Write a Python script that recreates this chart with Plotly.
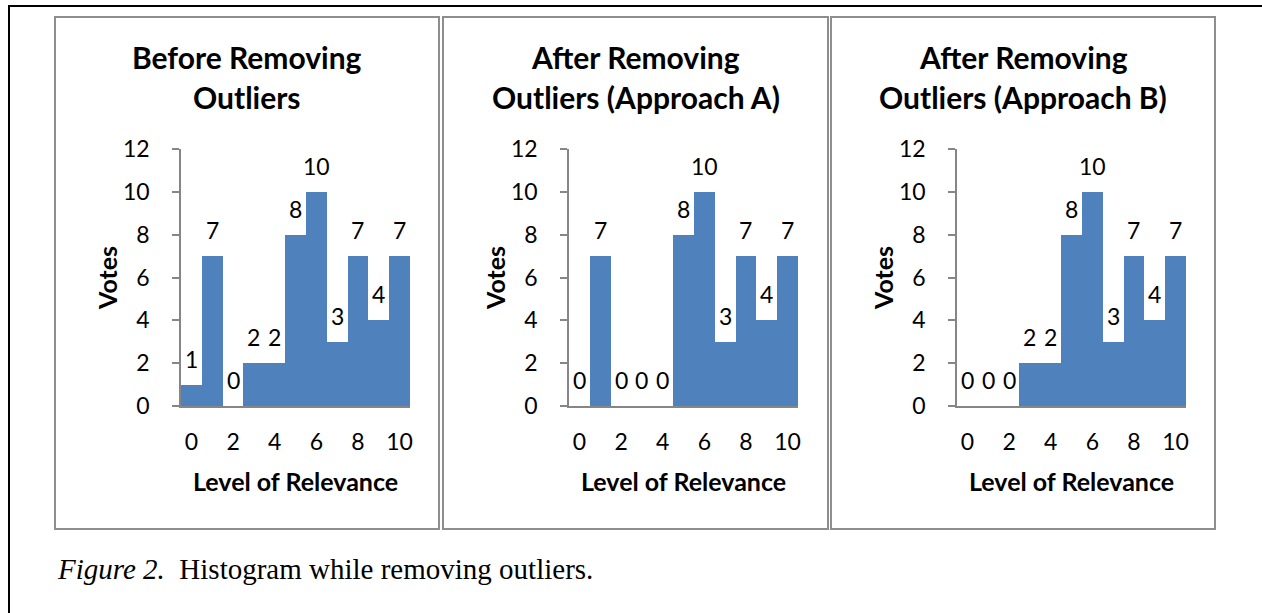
import plotly.graph_objects as go

W, H = 1262, 613

levels = list(range(11))
votes_before = [1, 7, 0, 2, 2, 8, 10, 3, 7, 4, 7]
votes_after_a = [0, 7, 0, 0, 0, 8, 10, 3, 7, 4, 7]
votes_after_b = [0, 0, 0, 2, 2, 8, 10, 3, 7, 4, 7]
series = [votes_before, votes_after_a, votes_after_b]
titles = [["Before Removing", "Outliers"],
          ["After Removing", "Outliers (Approach A)"],
          ["After Removing", "Outliers (Approach B)"]]
x_ticks = [0, 2, 4, 6, 8, 10]
y_ticks = [0, 2, 4, 6, 8, 10, 12]
x_title = "Level of Relevance"
y_title = "Votes"
caption_italic = "Figure 2."
caption_text = "Histogram while removing outliers."

BAR = "#4F81BD"
AXIS = "#868686"
PANEL = "#8E8E8E"
FONT = "Lato"
TICK_SIZE = 23
AXT_SIZE = 25
TITLE_SIZE = 30

# pixel layout
plot_x = [(181, 410), (569, 798), (957, 1186)]
plot_y = (149, 406)
panel_x = [(55, 439), (443, 828), (831, 1215)]
panel_y = (17, 529)

def px(x):
    return x / W

def py(y):
    return 1 - y / H

fig = go.Figure()
shapes = []
annotations = []

for i, vals in enumerate(series):
    n = "" if i == 0 else str(i + 1)
    xa = "x" + n
    ya = "y" + n
    fig.add_trace(go.Bar(x=levels, y=vals, marker=dict(color=BAR, line=dict(width=0)),
                         xaxis=xa, yaxis=ya, showlegend=False, hoverinfo="x+y"))
    x0, x1 = plot_x[i]
    fig.layout["xaxis" + n] = dict(
        domain=[px(x0), px(x1)], anchor=ya, range=[-0.5, 10.5],
        tickvals=x_ticks, ticks="outside", ticklen=14, tickcolor="rgba(0,0,0,0)",
        showline=True, linecolor=AXIS, linewidth=2, showgrid=False, zeroline=False,
        automargin=False,
        tickfont=dict(family=FONT, size=TICK_SIZE, color="black"), fixedrange=True)
    fig.layout["yaxis" + n] = dict(
        domain=[py(plot_y[1]), py(plot_y[0])], anchor=xa, range=[0, 12],
        tickvals=y_ticks, ticks="outside", ticklen=7, tickcolor=AXIS, tickwidth=1.5,
        ticklabelstandoff=18, automargin=False,
        showline=True, linecolor=AXIS, linewidth=1.5, showgrid=False, zeroline=False,
        tickfont=dict(family=FONT, size=TICK_SIZE, color="black"), fixedrange=True)

    # panel border
    p0, p1 = panel_x[i]
    shapes.append(dict(type="rect", xref="paper", yref="paper",
                       x0=px(p0), x1=px(p1), y0=py(panel_y[1]), y1=py(panel_y[0]),
                       line=dict(color=PANEL, width=2), layer="below"))
    # titles
    cx = (p0 + p1) / 2
    for j, line in enumerate(titles[i]):
        annotations.append(dict(text="<b>" + line + "</b>", xref="paper", yref="paper",
                                x=px(cx), y=py(57 + 40 * j), xanchor="center", yanchor="middle",
                                showarrow=False, font=dict(family=FONT, size=TITLE_SIZE, color="black")))
    # axis titles
    annotations.append(dict(text="<b>" + x_title + "</b>", xref="paper", yref="paper",
                            x=px((x0 + x1) / 2), y=py(481), xanchor="center", yanchor="middle",
                            showarrow=False, font=dict(family=FONT, size=AXT_SIZE, color="black")))
    annotations.append(dict(text="<b>" + y_title + "</b>", xref="paper", yref="paper",
                            x=px(x0 - 74), y=py(278), xanchor="center", yanchor="middle",
                            textangle=-90, showarrow=False,
                            font=dict(family=FONT, size=AXT_SIZE, color="black")))
    # data labels
    for lv, v in zip(levels, vals):
        annotations.append(dict(text=str(v), x=lv, y=v, xref=xa, yref=ya,
                                xanchor="center", yanchor="middle", yshift=26,
                                showarrow=False, font=dict(family=FONT, size=TICK_SIZE, color="black")))

# outer frame lines
shapes.append(dict(type="line", xref="paper", yref="paper", x0=px(8), x1=1,
                   y0=py(6), y1=py(6), line=dict(color="black", width=2)))
shapes.append(dict(type="line", xref="paper", yref="paper", x0=px(9), x1=px(9),
                   y0=py(6), y1=0, line=dict(color="black", width=2)))

# caption
annotations.append(dict(text="<i>" + caption_italic + "</i>&nbsp;&nbsp;" + caption_text,
                        xref="paper", yref="paper", x=px(55), y=py(569),
                        xanchor="left", yanchor="middle", showarrow=False,
                        font=dict(family="Liberation Serif", size=29, color="black")))

fig.update_layout(width=W, height=H,
                  margin=dict(l=0, r=0, t=0, b=0, pad=0, autoexpand=False),
                  paper_bgcolor="white", plot_bgcolor="white", bargap=0,
                  shapes=shapes, annotations=annotations)

fig.write_html("out.html", config={"displayModeBar": False},
               post_script="document.body.style.margin='0';document.body.style.padding='0';")
